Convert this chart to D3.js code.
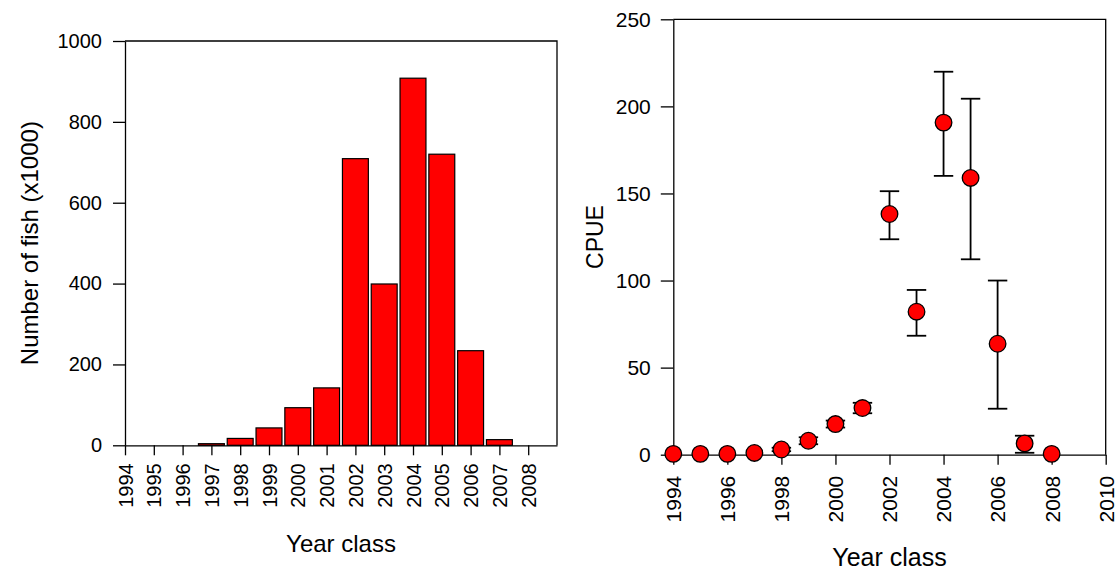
<!DOCTYPE html>
<html>
<head>
<meta charset="utf-8">
<script src="https://cdn.jsdelivr.net/npm/d3@7"></script>
<style>
  body { margin: 0; background: #fff; }
  svg { display: block; font-family: "Liberation Sans", Arial, sans-serif; }
</style>
</head>
<body>
<svg id="chart" width="1116" height="571"></svg>
<script>
// ---- Left panel data: Number of fish (x1000) by year class
const barYears = [1994, 1995, 1996, 1997, 1998, 1999, 2000, 2001, 2002, 2003, 2004, 2005, 2006, 2007, 2008];
const barValues = [0, 0, 0, 4, 17, 43, 93, 142, 709, 399, 908, 720, 234, 14, 0];
const barYTicks = [0, 200, 400, 600, 800, 1000];

// ---- Right panel data: CPUE by year class with error bars
const cpueYears = [1994, 1995, 1996, 1997, 1998, 1999, 2000, 2001, 2002, 2003, 2004, 2005, 2006, 2007, 2008];
const cpueValues = [0.5, 0.5, 0.5, 1, 3, 8, 17.6, 26.8, 138.2, 82.1, 190.7, 158.9, 63.7, 6.5, 0.5];
const cpueLower = [0.5, 0.5, 0.5, 1, 2, 6, 15.6, 23.8, 123.7, 68.3, 160.1, 112.2, 26.4, 1.1, 0.5];
const cpueUpper = [0.5, 0.5, 0.5, 1, 4, 10, 19.6, 29.8, 151.3, 94.6, 219.9, 204.4, 100, 10.9, 0.5];
const cpueXTicks = [1994, 1996, 1998, 2000, 2002, 2004, 2006, 2008, 2010];
const cpueYTicks = [0, 50, 100, 150, 200, 250];

const svg = d3.select("#chart");
const RED = "#ff0000";

function styleAxis(g, fs) {
  g.selectAll("path, line").attr("stroke", "#000").attr("stroke-width", 1.3);
  g.selectAll("text").attr("fill", "#000").style("font-size", fs + "px")
    .style("font-family", '"Liberation Sans", Arial, sans-serif');
}

// ================= LEFT PANEL =================
{
  const L = 125, R = 557, T = 41, B = 445.3;
  const x = d3.scaleLinear().domain([1994, 2009]).range([L, R]);
  const y = d3.scaleLinear().domain([0, 1000]).range([B, T]);
  const g = svg.append("g");
  const step = x(1995) - x(1994);
  const bw = step * 0.9;

  g.selectAll("rect.bar").data(barYears.map((d, i) => ({ yr: d, v: barValues[i] })).filter(d => d.v > 0))
    .enter().append("rect")
    .attr("class", "bar")
    .attr("x", d => x(d.yr) - bw / 2)
    .attr("width", bw)
    .attr("y", d => y(d.v))
    .attr("height", d => y(0) - y(d.v))
    .attr("fill", RED)
    .attr("stroke", "#000")
    .attr("stroke-width", 1.2);

  // frame
  g.append("path").attr("d", `M${L},${T}H${R}V${B}`).attr("fill", "none").attr("stroke", "#000").attr("stroke-width", 1.3);

  const ya = g.append("g").attr("transform", `translate(${L},0)`)
    .call(d3.axisLeft(y).tickValues(barYTicks).tickFormat(d3.format("d")).tickSize(12).tickPadding(11).tickSizeOuter(0));
  styleAxis(ya, 20);

  const xa = g.append("g").attr("transform", `translate(0,${B})`)
    .call(d3.axisBottom(x).tickValues(barYears).tickFormat(d3.format("d")).tickSize(10).tickSizeOuter(0));
  styleAxis(xa, 20);
  xa.selectAll("text")
    .attr("transform", "rotate(-90)")
    .attr("text-anchor", "end")
    .attr("x", -18)
    .attr("y", 0)
    .attr("dy", "0.35em");

  g.append("text").attr("x", (L + R) / 2).attr("y", 552)
    .attr("text-anchor", "middle").style("font-size", "24px").text("Year class");
  g.append("text").attr("transform", `translate(38,${(T + B) / 2}) rotate(-90)`)
    .attr("text-anchor", "middle").style("font-size", "24px").text("Number of fish (x1000)");
}

// ================= RIGHT PANEL =================
{
  const L = 673.3, R = 1105.7, T = 19.3, B = 454.7;
  const x = d3.scaleLinear().domain([1994, 2010]).range([L, R]);
  const y = d3.scaleLinear().domain([0, 250]).range([B, T]);
  const g = svg.append("g");

  g.append("path").attr("d", `M${L},${T}H${R}V${B}`).attr("fill", "none").attr("stroke", "#000").attr("stroke-width", 1.3);

  const ya = g.append("g").attr("transform", `translate(${L},0)`)
    .call(d3.axisLeft(y).tickValues(cpueYTicks).tickSize(12.5).tickPadding(10).tickSizeOuter(0));
  styleAxis(ya, 21);

  const xa = g.append("g").attr("transform", `translate(0,${B})`)
    .call(d3.axisBottom(x).tickValues(cpueXTicks).tickFormat(d3.format("d")).tickSize(10).tickSizeOuter(0));
  styleAxis(xa, 21);
  xa.selectAll("text")
    .attr("transform", "rotate(-90)")
    .attr("text-anchor", "end")
    .attr("x", -21)
    .attr("y", 0)
    .attr("dy", "0.35em");

  const data = cpueYears.map((d, i) => ({ yr: d, v: cpueValues[i], lo: cpueLower[i], hi: cpueUpper[i] }));
  const eb = g.append("g").attr("stroke", "#000").attr("stroke-width", 1.8).attr("fill", "none");
  const cap = 9.7;
  data.filter(d => d.hi - d.lo > 0).forEach(d => {
    const cx = x(d.yr);
    eb.append("line").attr("x1", cx).attr("x2", cx).attr("y1", y(d.lo)).attr("y2", y(d.hi));
    eb.append("line").attr("x1", cx - cap).attr("x2", cx + cap).attr("y1", y(d.hi)).attr("y2", y(d.hi));
    eb.append("line").attr("x1", cx - cap).attr("x2", cx + cap).attr("y1", y(d.lo)).attr("y2", y(d.lo));
  });

  g.selectAll("circle.pt").data(data).enter().append("circle")
    .attr("class", "pt")
    .attr("cx", d => x(d.yr))
    .attr("cy", d => y(d.v))
    .attr("r", 8.3)
    .attr("fill", RED)
    .attr("stroke", "#000")
    .attr("stroke-width", 1.3);

  g.append("text").attr("x", (L + R) / 2).attr("y", 566)
    .attr("text-anchor", "middle").style("font-size", "25px").text("Year class");
  g.append("text").attr("transform", `translate(603,${(T + B) / 2}) rotate(-90)`)
    .attr("text-anchor", "middle").style("font-size", "23px").text("CPUE");
}
</script>
</body>
</html>
